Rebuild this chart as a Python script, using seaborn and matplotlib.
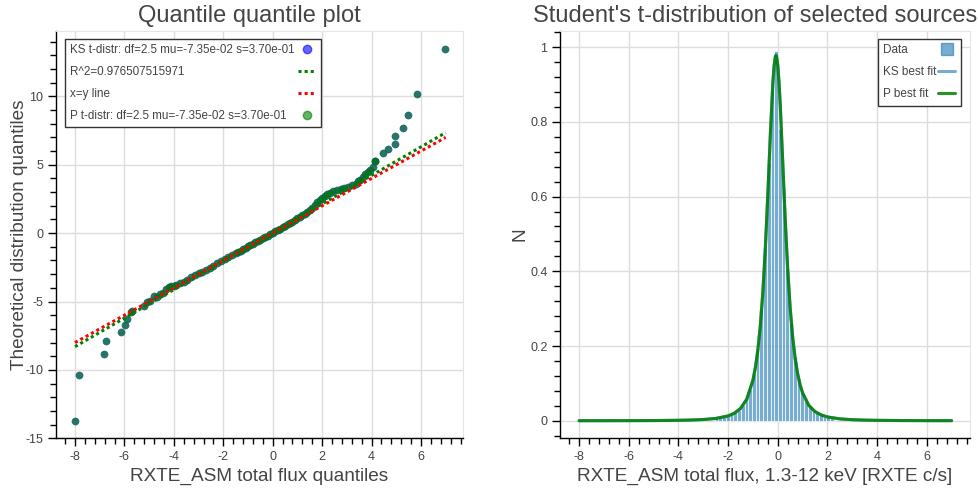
import matplotlib
matplotlib.use("Agg")
import matplotlib.pyplot as plt
from matplotlib.lines import Line2D
from matplotlib.ticker import MultipleLocator, FuncFormatter
import seaborn as sns

# quantile-quantile points: data quantile (x) vs theoretical quantile (y)
qq_data = [-8.00, -7.83, -6.81, -6.75, -6.15, -5.97, -5.90, -5.73, -5.70, -5.20,
           -5.10, -4.95, -4.80, -4.70, -4.55, -4.45, -4.30, -4.20, -4.10, -4.00,
           -3.90, -3.75, -3.60, -3.45, -3.30, -3.15, -3.00, -2.85, -2.70, -2.55,
           -2.40, -2.25, -2.10, -1.95, -1.80, -1.65, -1.50, -1.40, -1.30, -1.20,
           -1.10, -1.00, -0.90, -0.80, -0.70, -0.60, -0.50, -0.40, -0.30, -0.20,
           -0.10, 0.00, 0.10, 0.20, 0.30, 0.40, 0.50, 0.60, 0.70, 0.80,
           0.90, 1.00, 1.10, 1.20, 1.30, 1.40, 1.50, 1.60, 1.70, 1.80,
           1.90, 2.00, 2.10, 2.20, 2.30, 2.45, 2.60, 2.75, 2.90, 3.05,
           3.20, 3.35, 3.45, 3.55, 3.65, 3.75, 3.85, 3.95, 4.05, 4.14,
           4.14, 4.48, 4.68, 4.94, 4.96, 5.26, 5.49, 5.83, 6.97]
qq_theory = [-13.70, -10.39, -8.85, -7.90, -7.24, -6.73, -6.27, -5.73, -5.66, -5.30,
             -5.05, -4.95, -4.62, -4.70, -4.45, -4.35, -4.10, -3.95, -3.88, -3.85,
             -3.80, -3.68, -3.55, -3.40, -3.22, -3.08, -2.95, -2.82, -2.66, -2.52,
             -2.38, -2.22, -2.05, -1.90, -1.76, -1.62, -1.48, -1.38, -1.27, -1.17,
             -1.07, -0.97, -0.88, -0.78, -0.68, -0.58, -0.48, -0.38, -0.28, -0.18,
             -0.08, 0.02, 0.12, 0.22, 0.32, 0.43, 0.54, 0.64, 0.75, 0.85,
             0.96, 1.07, 1.18, 1.30, 1.42, 1.55, 1.68, 1.85, 2.05, 2.25,
             2.45, 2.60, 2.72, 2.85, 2.95, 3.05, 3.12, 3.22, 3.30, 3.40,
             3.52, 3.62, 3.80, 3.85, 4.10, 4.30, 4.45, 4.65, 4.85, 5.24,
             5.31, 5.85, 6.17, 6.53, 7.07, 7.68, 8.65, 10.20, 13.48]

# reference lines (endpoints)
line_x = [-8.0, 7.0]
xy_line_y = [-8.0, 7.0]
fit_line_y = [-8.30, 7.35]

# histogram of selected sources (normalised)
bin_centers = [-2.465, -2.315, -2.165, -2.015, -1.865, -1.715, -1.565, -1.415,
               -1.265, -1.115, -0.965, -0.815, -0.665, -0.515, -0.365, -0.215,
               -0.065, 0.085, 0.235, 0.385, 0.535, 0.685, 0.835, 0.985,
               1.135, 1.285, 1.435, 1.585, 1.735, 1.885, 2.035, 2.185]
bin_heights = [0.007, 0.009, 0.011, 0.014, 0.018, 0.023, 0.030, 0.041,
               0.058, 0.085, 0.126, 0.192, 0.300, 0.462, 0.690, 0.885,
               0.990, 0.780, 0.620, 0.405, 0.262, 0.170, 0.112, 0.076,
               0.053, 0.038, 0.027, 0.020, 0.015, 0.011, 0.009, 0.007]

# best-fit t-distribution curve
fit_x = [-8, -7, -6, -5, -4, -3.5, -3, -2.5, -2, -1.75, -1.5, -1.25, -1.0, -0.9,
         -0.8, -0.7, -0.6, -0.5, -0.4, -0.3, -0.2, -0.15, -0.1, -0.0735, -0.05,
         0.0, 0.05, 0.1, 0.2, 0.3, 0.4, 0.5, 0.6, 0.7, 0.8, 0.9, 1.0, 1.25, 1.5,
         1.75, 2.0, 2.5, 3, 3.5, 4, 5, 6, 7]
fit_y = [0.0001, 0.0002, 0.0003, 0.0005, 0.0012, 0.0019, 0.0033, 0.0061, 0.0129,
         0.0201, 0.0329, 0.0576, 0.1087, 0.1434, 0.1911, 0.2568, 0.3462, 0.4640,
         0.6084, 0.7660, 0.9028, 0.9494, 0.9745, 0.9780, 0.9753, 0.9516, 0.9061,
         0.8439, 0.6919, 0.5377, 0.4049, 0.3009, 0.2234, 0.1668, 0.1258, 0.0959,
         0.0742, 0.0411, 0.0244, 0.0154, 0.0102, 0.0050, 0.0028, 0.0017, 0.0011,
         0.0005, 0.0003, 0.0002]

ks_label = "KS t-distr: df=2.5 mu=-7.35e-02 s=3.70e-01"
p_label = "P t-distr: df=2.5 mu=-7.35e-02 s=3.70e-01"
r2_label = "R^2=0.976507515971"

TEXT = "#444444"
GRID = "#dddddd"
HIST = "#1f77b4"
DOTS = (0, (1, 1))

sns.set_style("ticks")
plt.rcParams["font.family"] = ["Liberation Sans", "DejaVu Sans"]
plt.rcParams["axes.unicode_minus"] = False

fig = plt.figure(figsize=(9.79, 4.9), dpi=100)
ax1 = fig.add_axes([56 / 979, 51.7 / 490, 407 / 979, 407.6 / 490])
ax2 = fig.add_axes([560 / 979, 51.7 / 490, 410 / 979, 407.6 / 490])


def style_axes(ax, xmaj, xmin, ymaj, ymin):
    ax.grid(True, which="major", color=GRID, lw=1)
    ax.set_axisbelow(True)
    for side in ("left", "bottom"):
        ax.spines[side].set_color("black")
        ax.spines[side].set_linewidth(1)
    for side in ("top", "right"):
        ax.spines[side].set_visible(True)
        ax.spines[side].set_color("#e5e5e5")
    ax.xaxis.set_major_locator(MultipleLocator(xmaj))
    ax.xaxis.set_minor_locator(MultipleLocator(xmin))
    ax.yaxis.set_major_locator(MultipleLocator(ymaj))
    ax.yaxis.set_minor_locator(MultipleLocator(ymin))
    fmt = FuncFormatter(lambda v, p: "%g" % round(v, 6))
    ax.xaxis.set_major_formatter(fmt)
    ax.yaxis.set_major_formatter(fmt)
    ax.tick_params(which="major", direction="out", length=6, width=1,
                   color="black", labelcolor=TEXT, labelsize=9, pad=3,
                   top=False, right=False)
    ax.tick_params(which="minor", direction="out", length=4, width=1,
                   color="black", top=False, right=False)


def make_legend(ax, handles, labels, anchor, loc, hlen, hpad, size):
    leg = ax.legend(handles, labels, loc=loc, bbox_to_anchor=anchor,
                    borderaxespad=0, markerfirst=False, fontsize=size,
                    frameon=True, fancybox=False, framealpha=1,
                    edgecolor="#333333", labelspacing=0.85, handlelength=hlen,
                    handleheight=0.9, handletextpad=hpad, borderpad=0.45)
    leg.get_frame().set_linewidth(1)
    for t in leg.get_texts():
        t.set_color(TEXT)
    return leg


def left_align(leg):
    # text left, glyph pushed to the right edge (Bokeh-like legend rows)
    fig.canvas.draw()
    r = fig.canvas.get_renderer()
    items = [it for col in leg._legend_handle_box.get_children()
             for it in col.get_children()]
    w = max(it.get_bbox(r).width for it in items)
    for it in items:
        it.mode = "expand"
        it.width = w


# ---- left: quantile quantile plot
sns.scatterplot(x=qq_data, y=qq_theory, color="blue", alpha=0.6, s=30,
                linewidth=0, ax=ax1)
sns.scatterplot(x=qq_data, y=qq_theory, color="green", alpha=0.6, s=30,
                linewidth=0, ax=ax1)
sns.lineplot(x=line_x, y=fit_line_y, color="green", lw=2.2, ax=ax1).lines[-1].set_linestyle(DOTS)
sns.lineplot(x=line_x, y=xy_line_y, color="red", lw=2.2, ax=ax1).lines[-1].set_linestyle(DOTS)
ax1.set_xlim(-8.77, 7.7)
ax1.set_ylim(-15.0, 14.8)
style_axes(ax1, 2, 0.4, 5, 1)
ax1.set_title("Quantile quantile plot", fontsize=17, color=TEXT, pad=6, x=0.475)
ax1.set_xlabel("RXTE_ASM total flux quantiles", fontsize=13.7, color=TEXT)
ax1.set_ylabel("Theoretical distribution quantiles", fontsize=13.7, color=TEXT)
ax1.xaxis.set_label_coords(0.5, -0.073)
ax1.yaxis.set_label_coords(-0.069, 0.5)

h1 = [Line2D([], [], ls="", marker="o", color="blue", alpha=0.6, markersize=6),
      Line2D([], [], color="green", lw=2.2, ls=DOTS),
      Line2D([], [], color="red", lw=2.2, ls=DOTS),
      Line2D([], [], ls="", marker="o", color="green", alpha=0.6, markersize=6)]
leg1 = make_legend(ax1, h1, [ks_label, r2_label, "x=y line", p_label],
                   (9 / 407, 1 - 8.3 / 407.6), "upper left", 1.5, 0.3, 8.4)

# ---- right: histogram + fitted curves
sns.histplot(x=bin_centers, weights=bin_heights, binwidth=0.15,
             binrange=(-2.54, 2.26), color=HIST, alpha=0.6, edgecolor="white",
             linewidth=0.5, ax=ax2)
sns.lineplot(x=fit_x, y=fit_y, color=HIST, alpha=0.6, lw=2.2, ax=ax2)
sns.lineplot(x=fit_x, y=fit_y, color="green", alpha=0.85, lw=2.2, ax=ax2)
ax2.set_xlim(-8.77, 7.74)
ax2.set_ylim(-0.047, 1.044)
style_axes(ax2, 2, 0.4, 0.2, 0.04)
ax2.set_title("Student's t-distribution of selected sources", fontsize=17,
              color=TEXT, pad=6, x=0.476)
ax2.set_xlabel("RXTE_ASM total flux, 1.3-12 keV [RXTE c/s]", fontsize=13.7, color=TEXT)
ax2.set_ylabel("N", fontsize=13.7, color=TEXT)
ax2.xaxis.set_label_coords(0.5, -0.073)
ax2.yaxis.set_label_coords(-0.076, 0.5)

h2 = [Line2D([], [], ls="", marker="s", color=HIST, alpha=0.6, markersize=8),
      Line2D([], [], color=HIST, alpha=0.6, lw=2.2),
      Line2D([], [], color="green", alpha=0.85, lw=2.2)]
leg2 = make_legend(ax2, h2, ["Data", "KS best fit", "P best fit"],
                   (1 - 9.3 / 410, 1 - 8.3 / 407.6), "upper right", 1.45, 0.15, 8.5)

left_align(leg1)
left_align(leg2)

fig.savefig("out.png", dpi=100)
